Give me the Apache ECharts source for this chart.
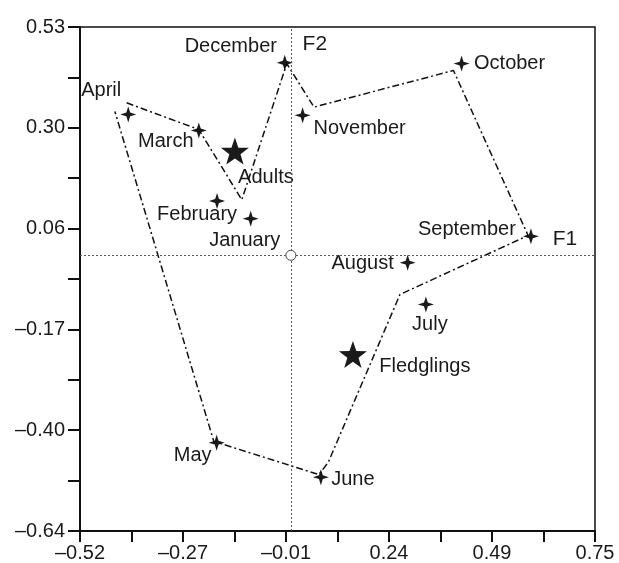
<!DOCTYPE html>
<html>
<head>
<meta charset="utf-8">
<script src="https://cdn.jsdelivr.net/npm/echarts@6/dist/echarts.min.js"></script>
<style>
  html, body { margin: 0; padding: 0; background: #fff; }
  #chart { width: 619px; height: 563px; }
</style>
</head>
<body>
<div id="chart"></div>
<script>
// months on the F1/F2 plane
const months = ['January', 'February', 'March', 'April', 'May', 'June',
  'July', 'August', 'September', 'October', 'November', 'December']
const monthF1 = [-0.099, -0.182, -0.227, -0.401, -0.183, 0.074, 0.333, 0.288, 0.592, 0.421, 0.029, -0.015]
const monthF2 = [0.085, 0.126, 0.290, 0.327, -0.435, -0.515, -0.114, -0.017, 0.044, 0.445, 0.325, 0.447]

// age classes (big stars)
const groups = ['Adults', 'Fledglings']
const groupF1 = [-0.138, 0.153]
const groupF2 = [0.242, -0.230]

// dash-dot outline
const hullF1 = [-0.405, -0.227, -0.121, -0.010, 0.057, 0.401, 0.585, 0.269, 0.092, 0.069, -0.190, -0.434]
const hullF2 = [0.354, 0.292, 0.129, 0.445, 0.344, 0.429, 0.046, -0.091, -0.481, -0.509, -0.432, 0.334]

// axes
const xMin = -0.52, xMax = 0.75
const yMin = -0.64, yMax = 0.53
const xTickLabels = ['\u20130.52', '\u20130.27', '\u20130.01', '0.24', '0.49', '0.75']
const yTickLabels = ['\u20130.64', '\u20130.40', '\u20130.17', '0.06', '0.30', '0.53']

// label offsets from marker centre (px)
const labelOffsets = {
  January: [-6, 22], February: [-20, 13], March: [-33, 11], April: [-27, -24],
  May: [-24, 13], June: [32, 2], July: [4, 20], August: [-45, 1],
  September: [-64, -7], October: [48, 0], November: [57, 13], December: [-54, -16],
  Adults: [31, 26], Fledglings: [72, 12]
}

const FONT = '"Liberation Sans", Arial, Helvetica, sans-serif'
const star4 = 'path://M0,-10 L2.4,-2.4 L10,0 L2.4,2.4 L0,10 L-2.4,2.4 L-10,0 L-2.4,-2.4 Z'
const star5 = 'path://M0,-10 L2.35,-3.24 L9.51,-3.09 L3.8,1.24 L5.88,8.09 L0,4 L-5.88,8.09 L-3.8,1.24 L-9.51,-3.09 L-2.35,-3.24 Z'

function pointLabel(name) {
  return {
    show: true,
    position: 'inside',
    offset: labelOffsets[name],
    formatter: name,
    color: '#1a1a1a',
    fontFamily: FONT,
    fontSize: 20,
    align: 'center',
    verticalAlign: 'middle'
  }
}

const monthData = months.map((m, i) => ({ name: m, value: [monthF1[i], monthF2[i]], label: pointLabel(m) }))
const groupData = groups.map((g, i) => ({ name: g, value: [groupF1[i], groupF2[i]], label: pointLabel(g) }))
const hullData = hullF1.map((x, i) => [x, hullF2[i]])

const chart = echarts.init(document.getElementById('chart'), null, { renderer: 'canvas' })

chart.setOption({
  animation: false,
  backgroundColor: '#fff',
  grid: {
    left: 80, top: 27, right: 24, bottom: 31,
    show: true, borderColor: '#111', borderWidth: 1.5
  },
  xAxis: {
    type: 'value',
    min: xMin, max: xMax, interval: 0.127,
    axisLine: { show: true, onZero: false, lineStyle: { color: '#111', width: 2 } },
    axisTick: { show: true, length: 11, lineStyle: { color: '#111', width: 2 } },
    splitLine: { show: false },
    axisLabel: {
      margin: 12, color: '#1a1a1a', fontFamily: FONT, fontSize: 20,
      formatter: (v, i) => (i % 2 === 0 ? (xTickLabels[i / 2] || '') : '')
    }
  },
  yAxis: {
    type: 'value',
    min: yMin, max: yMax, interval: 0.117,
    axisLine: { show: true, onZero: false, lineStyle: { color: '#111', width: 2 } },
    axisTick: { show: true, length: 12, lineStyle: { color: '#111', width: 2 } },
    splitLine: { show: false },
    axisLabel: {
      margin: 15, color: '#1a1a1a', fontFamily: FONT, fontSize: 20,
      formatter: (v, i) => (i % 2 === 0 ? (yTickLabels[i / 2] || '') : '')
    }
  },
  series: [
    {
      name: 'hull',
      type: 'line',
      data: hullData,
      symbol: 'none',
      silent: true,
      lineStyle: { color: '#111', width: 1.5, type: [7, 3, 2, 3] },
      markLine: {
        silent: true,
        symbol: 'none',
        label: { show: false },
        lineStyle: { color: '#555', width: 1, type: [2, 2] },
        data: [{ xAxis: 0 }, { yAxis: 0 }]
      }
    },
    {
      name: 'months',
      type: 'scatter',
      data: monthData,
      symbol: star4,
      symbolSize: 16,
      itemStyle: { color: '#1a1a1a', opacity: 1 }
    },
    {
      name: 'groups',
      type: 'scatter',
      data: groupData,
      symbol: star5,
      symbolSize: [28, 27],
      itemStyle: { color: '#1a1a1a', opacity: 1 }
    },
    {
      name: 'origin',
      type: 'scatter',
      data: [[0, 0]],
      symbol: 'circle',
      symbolSize: 10,
      z: 5,
      itemStyle: { color: '#fff', borderColor: '#444', borderWidth: 1, opacity: 1 }
    },
    {
      name: 'axisNames',
      type: 'scatter',
      symbolSize: 1,
      itemStyle: { color: 'transparent', opacity: 1 },
      data: [
        { value: [xMax, 0], label: { show: true, position: 'inside', formatter: 'F1', offset: [-30, -16] } },
        { value: [0, yMax], label: { show: true, position: 'inside', formatter: 'F2', offset: [24, 17] } }
      ],
      label: { color: '#1a1a1a', fontFamily: FONT, fontSize: 21, align: 'center', verticalAlign: 'middle' }
    }
  ]
})
</script>
</body>
</html>
